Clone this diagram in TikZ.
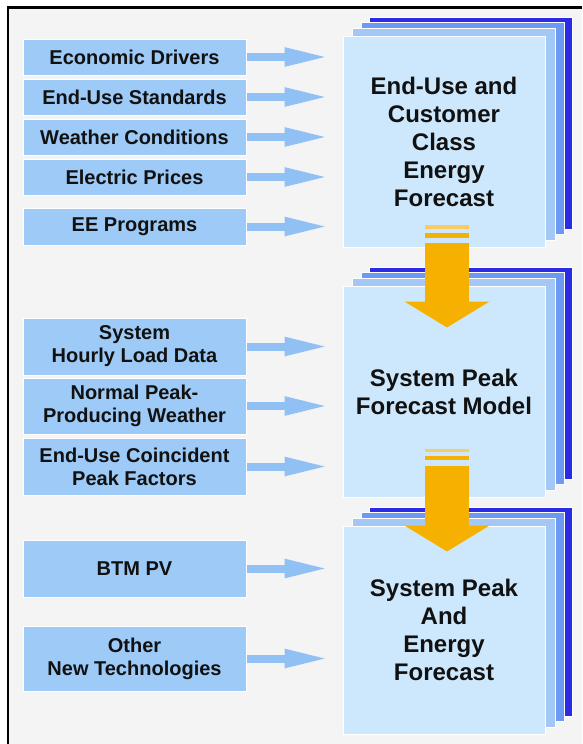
\documentclass[tikz,border=0pt]{standalone}
\usepackage{fontspec}
\setmainfont{Liberation Sans}
\usetikzlibrary{arrows.meta,calc,backgrounds}
\definecolor{boxblue}{HTML}{9DCAF7}
\definecolor{feedblue}{HTML}{90C0F4}
\definecolor{pagefront}{HTML}{CDE8FC}
\definecolor{pageA}{HTML}{A3C8F5}
\definecolor{pageB}{HTML}{6C9AF2}
\definecolor{pageC}{HTML}{2B2BE6}
\definecolor{flowor}{HTML}{F6B100}
\definecolor{flowlt}{HTML}{F9CB63}
\definecolor{bggray}{HTML}{F4F4F4}
\definecolor{txt}{HTML}{111111}

\begin{document}
\begin{tikzpicture}[x=1pt,y=-1pt,
  inbox/.style={fill=boxblue,draw=white,line width=1pt,minimum width=223pt,inner sep=0pt,
    align=center,text=txt,font=\bfseries\fontsize{20}{23}\selectfont},
  bigbox/.style={fill=pagefront,draw=white,line width=1pt,minimum width=202pt,minimum height=211pt,
    inner sep=0pt,align=center,text=txt,font=\bfseries\fontsize{24}{28}\selectfont},
  page/.style={fill=#1,draw=white,line width=1pt},
  feed/.style={draw=feedblue,line width=8pt,-{Triangle[width=17pt,length=45pt]},shorten >=13pt},
  flow/.style={draw=flowor,line width=44pt,-{Triangle[width=84pt,length=26pt]}}]
  \useasboundingbox (0,0) rectangle (582,744);

  \node[inbox,minimum height=36pt] (econ) at (134.5,57) {Economic Drivers};
  \node[inbox,minimum height=36pt] (stds) at (134.5,97) {End-Use Standards};
  \node[inbox,minimum height=36pt] (wthr) at (134.5,137) {Weather Conditions};
  \node[inbox,minimum height=36pt] (price) at (134.5,177) {Electric Prices};
  \node[inbox,minimum height=37pt] (eeprog) at (134.5,226.5) {EE Programs};

  \node[inbox,minimum height=57pt] (hourly) at (134.5,346.5) {System\\Hourly Load Data};
  \node[inbox,minimum height=56pt] (normal) at (134.5,406) {Normal Peak-\\Producing Weather};
  \node[inbox,minimum height=57pt] (coinc) at (134.5,466.5) {End-Use Coincident\\Peak Factors};

  \node[inbox,minimum height=57pt] (btm) at (134.5,568.5) {BTM PV};
  \node[inbox,minimum height=65pt] (newtech) at (134.5,658.5) {Other\\New Technologies};

  \node[bigbox] (energy) at (444,141.5) {End-Use and\\Customer\\Class\\Energy\\Forecast};
  \node[bigbox] (peak) at (444,391.5) {System Peak\\Forecast Model};
  \node[bigbox,minimum height=208pt] (final) at (444,630) {System Peak\\And\\Energy\\Forecast};

  \begin{scope}[on background layer]
    \fill[bggray] (8,7) rectangle (582,744);
    \draw[line width=2.5pt] (8,744) -- (8,7.5) -- (582,7.5);
    \draw[page=pageC] ($(energy.south west)+(27,-18)$) rectangle ($(energy.north east)+(27,-18)$);
    \draw[page=pageB] ($(energy.south west)+(19,-13)$) rectangle ($(energy.north east)+(19,-13)$);
    \draw[page=pageA] ($(energy.south west)+(10,-7)$) rectangle ($(energy.north east)+(10,-7)$);
    \draw[page=pageC] ($(peak.south west)+(27,-18)$) rectangle ($(peak.north east)+(27,-18)$);
    \draw[page=pageB] ($(peak.south west)+(19,-13)$) rectangle ($(peak.north east)+(19,-13)$);
    \draw[page=pageA] ($(peak.south west)+(10,-7)$) rectangle ($(peak.north east)+(10,-7)$);
    \draw[page=pageC] ($(final.south west)+(27,-18)$) rectangle ($(final.north east)+(27,-18)$);
    \draw[page=pageB] ($(final.south west)+(19,-13)$) rectangle ($(final.north east)+(19,-13)$);
    \draw[page=pageA] ($(final.south west)+(10,-7)$) rectangle ($(final.north east)+(10,-7)$);
  \end{scope}

  \draw[feed] (econ.east) -- (econ.east -| energy.west);
  \draw[feed] (stds.east) -- (stds.east -| energy.west);
  \draw[feed] (wthr.east) -- (wthr.east -| energy.west);
  \draw[feed] (price.east) -- (price.east -| energy.west);
  \draw[feed] (eeprog.east) -- (eeprog.east -| energy.west);
  \draw[feed] (hourly.east) -- (hourly.east -| peak.west);
  \draw[feed] (normal.east) -- (normal.east -| peak.west);
  \draw[feed] (coinc.east) -- (coinc.east -| peak.west);
  \draw[feed] (btm.east) -- (btm.east -| final.west);
  \draw[feed] (newtech.east) -- (newtech.east -| final.west);

  \coordinate (top1) at ($(energy.south)+(3,-5)$);
  \coordinate (tip1) at ($(peak.north)+(3,42)$);
  \coordinate (top2) at ($(peak.south)+(3,-32)$);
  \coordinate (tip2) at ($(final.north)+(3,26)$);
  \fill[flowlt] ($(top1)+(-22,-18)$) rectangle ($(top1)+(22,-14)$);
  \fill[flowor] ($(top1)+(-22,-10)$) rectangle ($(top1)+(22,-5)$);
  \draw[flow] (top1) -- (tip1);
  \fill[flowlt] ($(top2)+(-22,-17)$) rectangle ($(top2)+(22,-14)$);
  \fill[flowor] ($(top2)+(-22,-10)$) rectangle ($(top2)+(22,-6)$);
  \draw[flow] (top2) -- (tip2);
\end{tikzpicture}
\end{document}
